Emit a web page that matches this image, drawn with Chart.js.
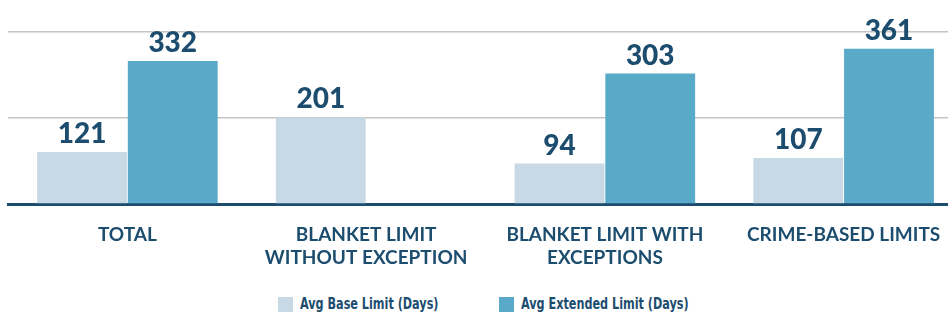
<!DOCTYPE html>
<html lang="en">
<head>
  <meta charset="UTF-8" />
  <title>Average Limit Days</title>
  <script src="https://cdn.jsdelivr.net/npm/chart.js"></script>
  <style>
    body {
      margin: 0;
      padding: 0;
      background-color: #fff;
      overflow: hidden;
    }

    .chart-box {
      position: relative;
      width: 963px;
      height: 270px;
    }

    #legend {
      position: absolute;
      left: 278px;
      top: 296px;
      display: flex;
      align-items: center;
      font-family: 'Liberation Sans Narrow', 'DejaVu Sans Condensed', sans-serif;
      font-stretch: condensed;
      font-weight: bold;
      font-size: 16px;
      color: #1c4d6f;
    }

    .legend-item {
      display: flex;
      align-items: center;
      width: 221px;
      line-height: 16px;
      white-space: nowrap;
    }

    .legend-swatch {
      flex: none;
      width: 15px;
      height: 15px;
      margin-right: 7px;
    }

    .legend-text {
      display: inline-block;
      transform: scaleX(0.78);
      transform-origin: left center;
    }
  </style>
</head>
<body>

  <div class="chart-box">
    <canvas id="limitChart"></canvas>
  </div>
  <div id="legend"></div>

  <script>
    const categories = [
      ['TOTAL'],
      ['BLANKET LIMIT', 'WITHOUT EXCEPTION'],
      ['BLANKET LIMIT WITH', 'EXCEPTIONS'],
      ['CRIME-BASED LIMITS']
    ];
    const seriesNames = ['Avg Base Limit (Days)', 'Avg Extended Limit (Days)'];
    const baseDays = [121, 201, 94, 107];
    const extendedDays = [332, null, 303, 361];
    const gridValues = [200, 400];

    const navy = '#1c4d6f';

    // draws the numbers above each bar
    const valueLabels = {
      id: 'valueLabels',
      afterDatasetsDraw(chart) {
        const ctx = chart.ctx;
        ctx.save();
        ctx.font = '900 28px Lato, sans-serif';
        ctx.fillStyle = navy;
        ctx.textAlign = 'center';
        ctx.textBaseline = 'alphabetic';
        chart.data.datasets.forEach((ds, i) => {
          const meta = chart.getDatasetMeta(i);
          meta.data.forEach((bar, j) => {
            const value = ds.data[j];
            if (value === null) return;
            ctx.fillText(value, bar.x, bar.y - 9);
          });
        });
        ctx.restore();
      }
    };

    const ctx = document.getElementById('limitChart').getContext('2d');

    const chart = new Chart(ctx, {
      type: 'bar',
      data: {
        labels: categories,
        datasets: [
          {
            label: seriesNames[0],
            data: baseDays,
            backgroundColor: '#c7d9e5'
          },
          {
            label: seriesNames[1],
            data: extendedDays,
            backgroundColor: '#59a9c8'
          }
        ]
      },
      options: {
        responsive: true,
        maintainAspectRatio: false,
        animation: false,
        layout: {
          padding: { left: 8, right: 0, top: 0, bottom: 0 }
        },
        datasets: {
          bar: {
            categoryPercentage: 0.76,
            barPercentage: 0.99
          }
        },
        scales: {
          x: {
            grid: { display: false, drawTicks: false },
            border: { display: true, color: navy, width: 3 },
            ticks: {
              color: navy,
              padding: 19,
              maxRotation: 0,
              autoSkip: false,
              font: { family: 'Lato', weight: 'bold', size: 19, lineHeight: 1.21 }
            },
            afterFit: function(scale) {
              scale.height = 66;
            }
          },
          y: {
            min: 0,
            max: 474,
            ticks: { display: false, stepSize: 200 },
            border: { display: false },
            grid: {
              drawTicks: false,
              lineWidth: 1.5,
              color: function(c) {
                return gridValues.includes(c.tick.value) ? '#c4c4c4' : 'rgba(0,0,0,0)';
              }
            },
            afterFit: function(scale) {
              scale.width = 0;
            }
          }
        },
        plugins: {
          legend: { display: false },
          tooltip: { enabled: false }
        }
      },
      plugins: [valueLabels]
    });

    // html legend from the chart's own legend items
    const legendEl = document.getElementById('legend');
    Chart.defaults.plugins.legend.labels.generateLabels(chart).forEach(item => {
      const row = document.createElement('div');
      row.className = 'legend-item';
      const swatch = document.createElement('span');
      swatch.className = 'legend-swatch';
      swatch.style.background = item.fillStyle;
      const text = document.createElement('span');
      text.className = 'legend-text';
      text.textContent = item.text;
      row.appendChild(swatch);
      row.appendChild(text);
      legendEl.appendChild(row);
    });
  </script>

</body>
</html>
